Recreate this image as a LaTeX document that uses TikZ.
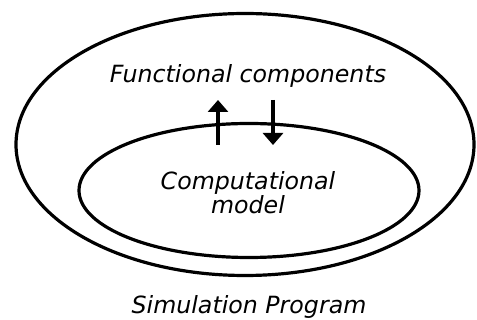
\documentclass[tikz,border=0pt]{standalone}
\usepackage{fontspec}
\setmainfont{DejaVu Sans}
\usetikzlibrary{arrows.meta}
\begin{document}
\begin{tikzpicture}[x=1pt,y=-1pt,
  ring/.style={draw=black,line width=3.2pt},
  lbl/.style={font=\fontsize{23.7}{27}\selectfont\itshape,align=center,inner sep=0pt},
  flow/.style={line width=3.2pt,-{Triangle[width=20pt,length=12pt]}}]
\useasboundingbox (0,0) rectangle (477,320);
\draw[ring] (245,144.5) ellipse [x radius=229, y radius=131];
\draw[ring] (249,190.5) ellipse [x radius=170, y radius=67];
\node[lbl] (fc) at (248,76) {Functional components};
\node[lbl,text depth=0pt] (cm) at (248,192) {Computational\\[-3pt]model};
\node[lbl] (sp) at (249,307) {Simulation Program};
\coordinate (ub) at (218,145);
\coordinate (ut) at (218,100);
\coordinate (dt) at (273,100);
\coordinate (db) at (273,145);
\draw[flow] (ub) -- (ut);
\draw[flow] (dt) -- (db);
\end{tikzpicture}
\end{document}
